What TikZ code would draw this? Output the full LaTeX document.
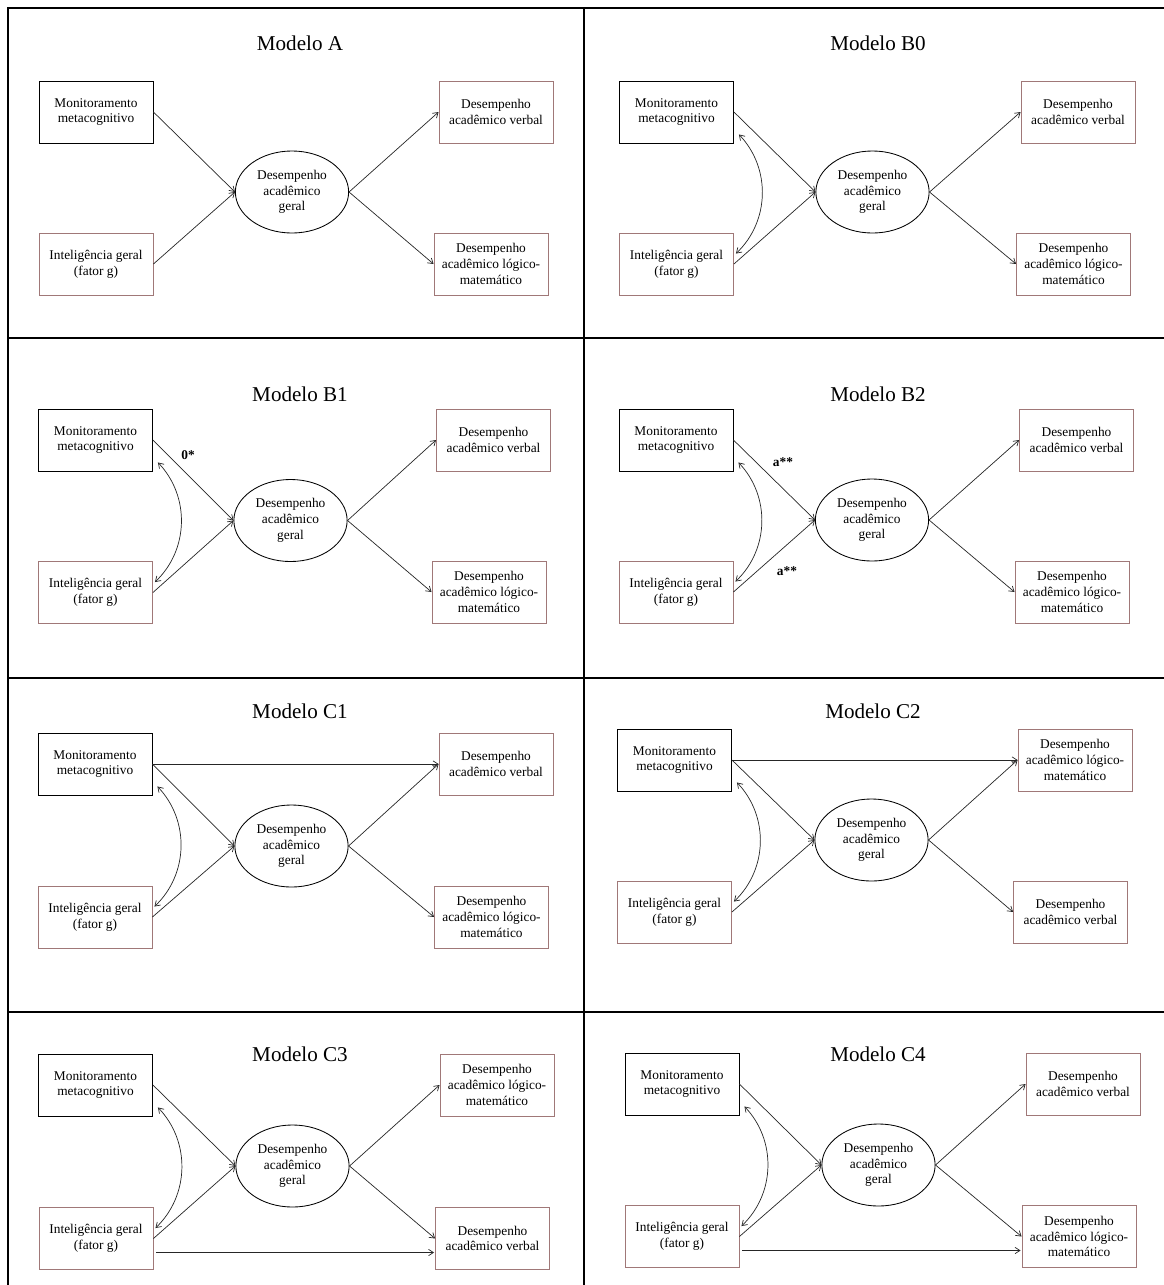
\documentclass[tikz,border=0pt]{standalone}
\usepackage{fontspec}
\setmainfont{Liberation Serif}
\usetikzlibrary{arrows.meta, shapes.geometric}

\definecolor{boxbrown}{RGB}{160,120,120}

\begin{document}
\begin{tikzpicture}[
    x=0.025cm, y=-0.025cm,
    every node/.style={font=\fontsize{9.5}{11.2}\selectfont, align=center},
    var/.style={rectangle, draw=black, line width=0.6pt, minimum width=2.85cm, minimum height=1.55cm, inner sep=1pt},
    outvar/.style={var, draw=boxbrown},
    latent/.style={ellipse, draw=black, line width=0.6pt, minimum width=2.83cm, minimum height=2.05cm, inner sep=0pt},
    reg/.style={-{Straight Barb[length=3.5pt,width=4.5pt]}, line width=0.5pt, draw=black!85},
    cov/.style={{Straight Barb[length=3.5pt,width=4.5pt]}-{Straight Barb[length=3.5pt,width=4.5pt]}, line width=0.5pt, draw=black!85, bend left=45},
    title/.style={font=\fontsize{15}{18}\selectfont},
    coef/.style={font=\fontsize{9.5}{11}\selectfont\bfseries},
    frame/.style={line width=1.4pt},
]
\useasboundingbox (0,0) rectangle (1164,1285);

% Panel grid
\draw[frame] (8,1285) -- (8,8) -- (1164,8);
\draw[frame] (584,8) -- (584,1285);
\foreach \y in {338,678,1012} \draw[frame] (8,\y) -- (1164,\y);

% Modelo A
\node[title] (t-a) at (300,43) {Modelo A};
\node[var] (mon-a) at (96,112) {Monitoramento\\metacognitivo};
\node[outvar] (int-a) at (96,264) {Inteligência geral\\(fator g)};
\node[latent] (des-a) at (292,192) {Desempenho\\acadêmico\\geral};
\node[outvar] (verb-a) at (496,112) {Desempenho\\acadêmico verbal};
\node[outvar] (log-a) at (491,264) {Desempenho\\acadêmico lógico-\\matemático};

\draw[reg] (mon-a.east) -- (des-a.west);
\draw[reg] (int-a.east) -- (des-a.west);
\draw[reg] (des-a.east) -- (verb-a.west);
\draw[reg] (des-a.east) -- (log-a.west);

% Modelo B0
\node[title] (t-b0) at (878,43) {Modelo B0};
\node[var] (mon-b0) at (676.5,112) {Monitoramento\\metacognitivo};
\node[outvar] (int-b0) at (676.5,264) {Inteligência geral\\(fator g)};
\node[latent] (des-b0) at (872.5,192) {Desempenho\\acadêmico\\geral};
\node[outvar] (verb-b0) at (1078,112) {Desempenho\\acadêmico verbal};
\node[outvar] (log-b0) at (1073.5,264) {Desempenho\\acadêmico lógico-\\matemático};

\draw[reg] (mon-b0.east) -- (des-b0.west);
\draw[reg] (int-b0.east) -- (des-b0.west);
\draw[reg] (des-b0.east) -- (verb-b0.west);
\draw[reg] (des-b0.east) -- (log-b0.west);
\draw[cov] ([shift={(5,-9)}]mon-b0.south east) to ([shift={(2,21)}]int-b0.north east);

% Modelo B1
\node[title] (t-b1) at (300,394) {Modelo B1};
\node[var] (mon-b1) at (95.5,440) {Monitoramento\\metacognitivo};
\node[outvar] (int-b1) at (95.5,592.5) {Inteligência geral\\(fator g)};
\node[latent] (des-b1) at (290.5,520.5) {Desempenho\\acadêmico\\geral};
\node[outvar] (verb-b1) at (493.5,440) {Desempenho\\acadêmico verbal};
\node[outvar] (log-b1) at (489,592) {Desempenho\\acadêmico lógico-\\matemático};

\draw[reg] (mon-b1.east) -- (des-b1.west);
\draw[reg] (int-b1.east) -- (des-b1.west);
\draw[reg] (des-b1.east) -- (verb-b1.west);
\draw[reg] (des-b1.east) -- (log-b1.west);
\draw[cov] ([shift={(5,-9)}]mon-b1.south east) to ([shift={(2,21)}]int-b1.north east);
\node[coef] (w-b1) at (188,455) {0*};

% Modelo B2
\node[title] (t-b2) at (878,394) {Modelo B2};
\node[var] (mon-b2) at (676,440) {Monitoramento\\metacognitivo};
\node[outvar] (int-b2) at (676,592) {Inteligência geral\\(fator g)};
\node[latent] (des-b2) at (872,520) {Desempenho\\acadêmico\\geral};
\node[outvar] (verb-b2) at (1076.5,440) {Desempenho\\acadêmico verbal};
\node[outvar] (log-b2) at (1072,592) {Desempenho\\acadêmico lógico-\\matemático};

\draw[reg] (mon-b2.east) -- (des-b2.west);
\draw[reg] (int-b2.east) -- (des-b2.west);
\draw[reg] (des-b2.east) -- (verb-b2.west);
\draw[reg] (des-b2.east) -- (log-b2.west);
\draw[cov] ([shift={(5,-9)}]mon-b2.south east) to ([shift={(2,21)}]int-b2.north east);
\node[coef] (wm-b2) at (783,462) {a**};
\node[coef] (wi-b2) at (787,571) {a**};

% Modelo C1
\node[title] (t-c1) at (300,711) {Modelo C1};
\node[var] (mon-c1) at (95,764) {Monitoramento\\metacognitivo};
\node[outvar] (int-c1) at (95,917) {Inteligência geral\\(fator g)};
\node[latent] (des-c1) at (291.5,846) {Desempenho\\acadêmico\\geral};
\node[outvar] (verb-c1) at (496,764) {Desempenho\\acadêmico verbal};
\node[outvar] (log-c1) at (491.5,917) {Desempenho\\acadêmico lógico-\\matemático};

\draw[reg] (mon-c1.east) -- (verb-c1.west);
\draw[reg] (mon-c1.east) -- (des-c1.west);
\draw[reg] (int-c1.east) -- (des-c1.west);
\draw[reg] (des-c1.east) -- (verb-c1.west);
\draw[reg] (des-c1.east) -- (log-c1.west);
\draw[cov] ([shift={(5,-9)}]mon-c1.south east) to ([shift={(2,21)}]int-c1.north east);

% Modelo C2
\node[title] (t-c2) at (873,711) {Modelo C2};
\node[var] (mon-c2) at (674.5,760) {Monitoramento\\metacognitivo};
\node[outvar] (int-c2) at (674.5,912) {Inteligência geral\\(fator g)};
\node[latent] (des-c2) at (871.5,840) {Desempenho\\acadêmico\\geral};
\node[outvar] (log-c2) at (1075,760) {Desempenho\\acadêmico lógico-\\matemático};
\node[outvar] (verb-c2) at (1070.5,912) {Desempenho\\acadêmico verbal};

\draw[reg] (mon-c2.east) -- (log-c2.west);
\draw[reg] (mon-c2.east) -- (des-c2.west);
\draw[reg] (int-c2.east) -- (des-c2.west);
\draw[reg] (des-c2.east) -- (log-c2.west);
\draw[reg] (des-c2.east) -- (verb-c2.west);
\draw[cov] ([shift={(5,-9)}]mon-c2.south east) to ([shift={(2,21)}]int-c2.north east);

% Modelo C3
\node[title] (t-c3) at (300,1054) {Modelo C3};
\node[var] (mon-c3) at (95.5,1085) {Monitoramento\\metacognitivo};
\node[outvar] (int-c3) at (96,1238.5) {Inteligência geral\\(fator g)};
\node[latent] (des-c3) at (292.5,1166) {Desempenho\\acadêmico\\geral};
\node[outvar] (log-c3) at (497,1085) {Desempenho\\acadêmico lógico-\\matemático};
\node[outvar] (verb-c3) at (492.5,1238.5) {Desempenho\\acadêmico verbal};

\draw[reg] ([shift={(3,14)}]int-c3.east) -- ([shift={(-1,14)}]verb-c3.west);
\draw[reg] (mon-c3.east) -- (des-c3.west);
\draw[reg] (int-c3.east) -- (des-c3.west);
\draw[reg] (des-c3.east) -- (log-c3.west);
\draw[reg] (des-c3.east) -- (verb-c3.west);
\draw[cov] ([shift={(5,-9)}]mon-c3.south east) to ([shift={(2,21)}]int-c3.north east);

% Modelo C4
\node[title] (t-c4) at (878,1054) {Modelo C4};
\node[var] (mon-c4) at (682,1084) {Monitoramento\\metacognitivo};
\node[outvar] (int-c4) at (682,1236.5) {Inteligência geral\\(fator g)};
\node[latent] (des-c4) at (878.5,1165) {Desempenho\\acadêmico\\geral};
\node[outvar] (verb-c4) at (1083,1084) {Desempenho\\acadêmico verbal};
\node[outvar] (log-c4) at (1079,1236.5) {Desempenho\\acadêmico lógico-\\matemático};

\draw[reg] ([shift={(3,14)}]int-c4.east) -- ([shift={(-1,14)}]log-c4.west);
\draw[reg] (mon-c4.east) -- (des-c4.west);
\draw[reg] (int-c4.east) -- (des-c4.west);
\draw[reg] (des-c4.east) -- (verb-c4.west);
\draw[reg] (des-c4.east) -- (log-c4.west);
\draw[cov] ([shift={(5,-9)}]mon-c4.south east) to ([shift={(2,21)}]int-c4.north east);

\end{tikzpicture}
\end{document}
